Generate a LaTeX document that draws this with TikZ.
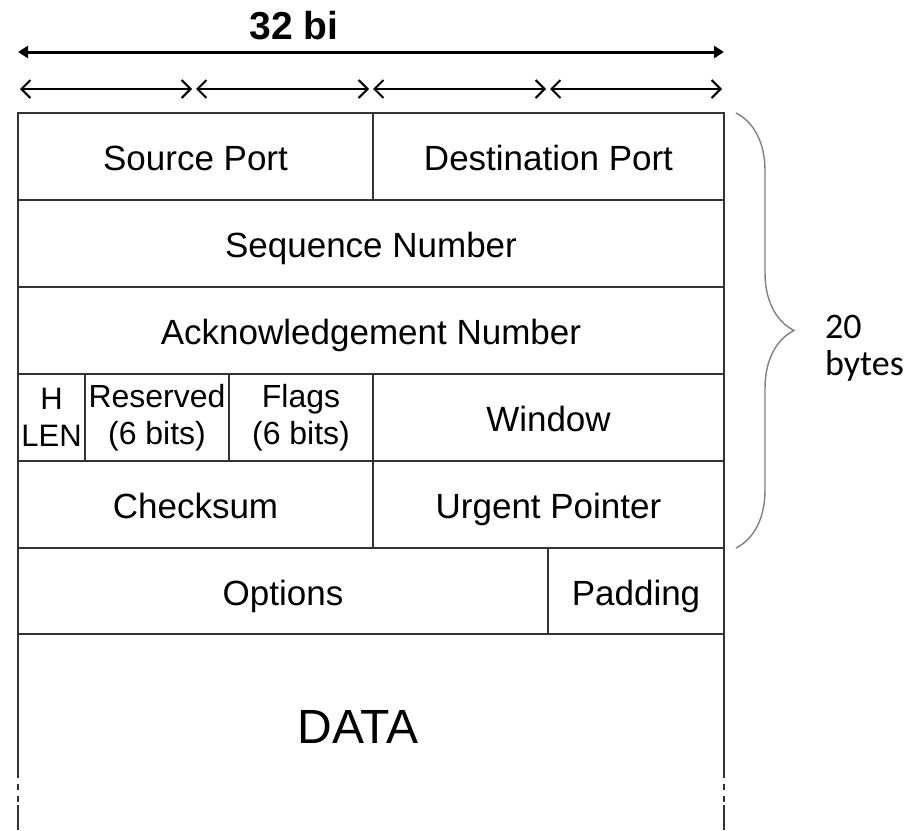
\documentclass[tikz,border=0pt]{standalone}
\usepackage{fontspec}
\setmainfont{Liberation Sans}
\newfontfamily\bracefont{Carlito}
\usetikzlibrary{arrows.meta,decorations.pathreplacing}
\tikzset{
    field-box/.style = {draw=black!80, rectangle, line width=0.7pt, inner sep=0pt, outer sep=0pt, minimum height=43.5pt, font=\fontsize{17.5}{20}\selectfont},
    one-line/.style = {field-box, text height=16pt, text depth=2pt},
    narrow-field/.style = {field-box, align=center, font=\fontsize{16}{18.5}\selectfont},
    table-line/.style = {draw=black!80, line width=0.7pt},
    width-arrow/.style = {line width=1pt, {Straight Barb[length=4.5pt,width=9pt]}-{Straight Barb[length=4.5pt,width=9pt]}},
    total-arrow/.style = {line width=1.5pt, {Triangle[length=5pt,width=6pt]}-{Triangle[length=5pt,width=6pt]}},
    hdr-brace/.style = {draw=black!50, line width=0.7pt, decorate, decoration={brace, amplitude=29pt}},
}

\begin{document}
\begin{tikzpicture}[x=0.5pt, y=-0.5pt]
\useasboundingbox (0,0) rectangle (910,830);
% width arrows
\node[font=\fontsize{19.5}{22}\selectfont\bfseries] (title) at (294,26) {32 bi};
\coordinate (total-l) at (18,52);
\coordinate (total-r) at (724,52);
\draw[total-arrow] (total-l) -- (total-r);
\coordinate (q0) at (18,89);
\coordinate (q1) at (194,89);
\coordinate (q2) at (371,89);
\coordinate (q3) at (548,89);
\coordinate (q4) at (724,89);
\foreach \a/\b in {q0/q1,q1/q2,q2/q3,q3/q4}
    \draw[width-arrow, shorten <=1pt, shorten >=1pt] (\a) -- (\b);

% header rows
\node[one-line, minimum width=177.5pt] (src) at (195.5,156.5) {Source Port};
\node[one-line, minimum width=175.5pt] (dst) at (548.5,156.5) {Destination Port};
\node[one-line, minimum width=353pt] (seq) at (371,243.5) {Sequence Number};
\node[one-line, minimum width=353pt] (ack) at (371,330.5) {Acknowledgement Number};
\node[narrow-field, minimum width=33.5pt, font=\fontsize{15.5}{18.5}\selectfont] (hlen) at (51.5,417.5) {H\\LEN};
\node[narrow-field, minimum width=72pt] (rsv) at (157,417.5) {Reserved\\(6 bits)};
\node[narrow-field, minimum width=72pt] (flags) at (301,417.5) {Flags\\(6 bits)};
\node[one-line, minimum width=175.5pt] (win) at (548.5,417.5) {Window};
\node[one-line, minimum width=177.5pt] (chk) at (195.5,504.5) {Checksum};
\node[one-line, minimum width=175.5pt] (urg) at (548.5,504.5) {Urgent Pointer};
\node[one-line, minimum width=265pt, minimum height=43pt] (opt) at (283,591) {Options};
\node[one-line, minimum width=88pt, minimum height=43pt] (pad) at (636,591) {Padding};

% data part, open at the bottom
\node[font=\fontsize{24}{26}\selectfont] (data) at (358,727) {DATA};
\coordinate (dl1) at (18,772);
\coordinate (dl2) at (18,805);
\coordinate (dl3) at (18,830);
\coordinate (dr1) at (724,772);
\coordinate (dr2) at (724,805);
\coordinate (dr3) at (724,830);
\draw[table-line] (opt.south west) -- (dl1);
\draw[table-line, dashed] (dl1) -- (dl2);
\draw[table-line] (dl2) -- (dl3);
\draw[table-line] (pad.south east) -- (dr1);
\draw[table-line, dashed] (dr1) -- (dr2);
\draw[table-line] (dr2) -- (dr3);

% 20 bytes
\draw[hdr-brace] ([xshift=6pt]dst.north east) -- ([xshift=6pt]urg.south east);
\node[anchor=west, align=left, font=\bracefont\fontsize{18}{18.5}\selectfont] (hdr-len) at (818,348) {20\\bytes};
\end{tikzpicture}
\end{document}
